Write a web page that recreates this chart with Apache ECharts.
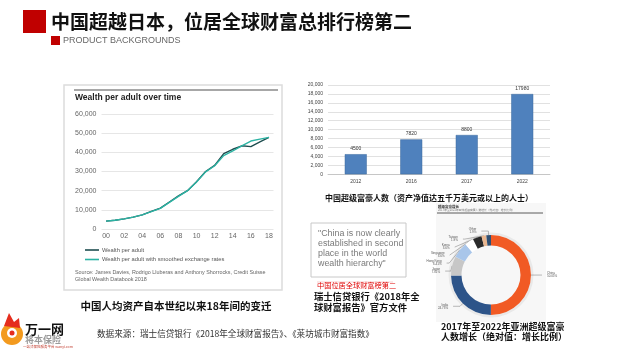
<!DOCTYPE html>
<html><head><meta charset="utf-8">
<script src="https://cdn.jsdelivr.net/npm/echarts@6/dist/echarts.min.js"></script>
<style>html,body{margin:0;padding:0;background:#fff}#c{width:624px;height:350px}</style>
</head><body><div id="c"></div>
<script>
// ---- data ----
const lineYears = ['00','01','02','03','04','05','06','07','08','09','10','11','12','13','14','15','16','17','18'];
const wealthPerAdult = [4100,4600,5300,6200,7400,9200,10900,14100,17300,20000,24700,30000,33200,39300,41600,43400,43000,45500,47800];
const wealthSmoothed = [4100,4600,5300,6200,7400,9100,10800,13900,17000,20000,24500,29800,33000,38300,40700,43400,45900,46900,47800];
const lineYTicks = [0,10000,20000,30000,40000,50000,60000];

const barYears = ['2012','2016','2017','2022'];
const barValues = [4500,7820,8800,17980];

const donutNames = ['China','India','Japan','Hong Kong','Singapore','Korea','Taiwan','Other'];
const donutValues = [50,24.7,7.8,6.4,3.6,3.6,1.9,1.9];
const donutColors = ['#f15a24','#2d5489','#c7c7c7','#a9c6ea','#ffffff','#2a2a2a','#e9b68f','#2f4f73'];

const CJK = '"Noto Sans CJK SC", "Noto Sans", sans-serif';
const LAT = '"Liberation Sans", Arial, sans-serif';

const chart = echarts.init(document.getElementById('c'), null, {renderer:'canvas'});

function txt(x,y,text,size,color,opts){
  opts = opts||{};
  return {type:'text', silent:true, z:10, style:{x:x,y:y,text:text,
    font:(opts.bold?'bold ':'')+size+'px '+(opts.fam||CJK), fill:color,
    align:opts.align||'left', verticalAlign:'middle', lineHeight:opts.lh}};
}

const graphics = [
  // header
  {type:'rect', shape:{x:23,y:10,width:23,height:23}, style:{fill:'#c00000'}},
  txt(51,21.5,'中国超越日本，位居全球财富总排行榜第二',19,'#111',{bold:true}),
  {type:'rect', shape:{x:51,y:36,width:9,height:9}, style:{fill:'#c00000'}},
  txt(63,40.8,'PRODUCT BACKGROUNDS',9,'#666',{fam:LAT}),
  // line chart panel
  {type:'rect', z:-1, shape:{x:64,y:85,width:218,height:205}, style:{fill:'#fff',stroke:'#dcdcdc',lineWidth:1.5}},
  {type:'line', shape:{x1:74,y1:90,x2:278,y2:90}, style:{stroke:'#8a8a8a',lineWidth:1.5}},
  txt(75,97.5,'Wealth per adult over time',8.5,'#222',{bold:true,fam:LAT}),
  txt(75,273,'Source: James Davies, Rodrigo Lluberas and Anthony Shorrocks, Credit Suisse',5.4,'#666',{fam:LAT}),
  txt(75,280,'Global Wealth Databook 2018',5.4,'#666',{fam:LAT}),
  txt(176,306,'中国人均资产自本世纪以来18年间的变迁',10.5,'#111',{bold:true,align:'center'}),
  // bar caption
  txt(325,198,'中国超级富豪人数（资产净值达五千万美元或以上的人士）',8,'#111',{bold:true}),
  // quote box
  {type:'rect', shape:{x:311,y:223,width:95,height:54}, style:{fill:'#fff',stroke:'#c8c8c8',lineWidth:1}},
  txt(318,234,'"China is now clearly',8.9,'#7a7a7a',{fam:LAT}),
  txt(318,244,'established in second',8.9,'#7a7a7a',{fam:LAT}),
  txt(318,254,'place in the world',8.9,'#7a7a7a',{fam:LAT}),
  txt(318,264,'wealth hierarchy"',8.9,'#7a7a7a',{fam:LAT}),
  txt(317,285,'中国位居全球财富榜第二',7.2,'#e00000',{}),
  {type:'line', shape:{x1:317,y1:282,x2:393,y2:282}, style:{stroke:'#f2b0b0',lineWidth:0.6}},
  txt(314,296,'瑞士信贷银行《2018年全',9.3,'#111',{bold:true}),
  txt(314,307,'球财富报告》官方文件',9.3,'#111',{bold:true}),
  // donut panel
  {type:'rect', z:-1, shape:{x:436,y:203,width:110,height:119}, style:{fill:'#f7f7f7'}},
  txt(438,206.5,'超级富豪增长',3.5,'#333',{bold:true}),
  txt(438,210,'2017年至2022年亚洲超级富豪人数增长（绝对值：增长比例）',2.8,'#777',{}),
  {type:'line', shape:{x1:437,y1:213,x2:543,y2:213}, style:{stroke:'#333',lineWidth:0.8}},
  txt(441,327,'2017年至2022年亚洲超级富豪',9,'#111',{bold:true}),
  txt(441,337,'人数增长（绝对值：增长比例）',9,'#111',{bold:true}),
  // footer source
  txt(97,334,'数据来源：瑞士信贷银行《2018年全球财富报告》、《莱坊城市财富指数》',8.6,'#333',{}),
  // logo
  {type:'circle', shape:{cx:12,cy:334,r:11}, style:{fill:'#f39a1e'}},
  {type:'polygon', shape:{points:[[4,326],[9,313],[14,322],[19,318],[20,328]]}, style:{fill:'#e52d1d'}},
  {type:'circle', shape:{cx:12,cy:333,r:5}, style:{fill:'#fff'}},
  {type:'circle', shape:{cx:12,cy:333,r:2.5}, style:{fill:'#e52d1d'}},
  txt(25,329,'万一网',13,'#111',{bold:true}),
  txt(25,340,'将本保险',9,'#9a9a9a',{bold:true}),
  txt(23,347,'一站式保险服务平台 wanyi.com',3.5,'#c0392b',{})
];

const option = {
  backgroundColor:'#fff',
  animation:false,
  legend:{
    data:['Wealth per adult','Wealth per adult with smoothed exchange rates'],
    orient:'vertical', left:85, top:247, padding:0, itemGap:3.5,
    itemWidth:14, itemHeight:1.6, icon:'rect',
    textStyle:{fontSize:5.8, color:'#555', fontFamily:LAT, padding:[0,0,0,-2]}
  },
  grid:[
    {left:101.5, top:114, width:172, height:115, containLabel:false},
    {left:328, top:85, width:222, height:89.3, containLabel:false}
  ],
  xAxis:[
    {gridIndex:0, type:'category', data:lineYears, boundaryGap:true,
     axisLine:{show:false}, axisTick:{show:false},
     axisLabel:{interval:1, fontSize:7, color:'#666', fontFamily:LAT, margin:4}},
    {gridIndex:1, type:'category', data:barYears,
     axisLine:{lineStyle:{color:'#bfbfbf',width:0.8}}, axisTick:{show:false},
     axisLabel:{fontSize:5, color:'#444', fontFamily:LAT, margin:5}}
  ],
  yAxis:[
    {gridIndex:0, type:'value', min:0, max:60000, interval:10000,
     axisLine:{show:false}, axisTick:{show:false},
     splitLine:{lineStyle:{color:'#e6e6e6',width:1}},
     axisLabel:{fontSize:7, color:'#666', fontFamily:LAT, margin:5,
       formatter:v=>v.toLocaleString('en-US')}},
    {gridIndex:1, type:'value', min:0, max:20000, interval:2000,
     axisLine:{show:false}, axisTick:{show:false},
     splitLine:{lineStyle:{color:'#d9d9d9',width:0.8}},
     axisLabel:{fontSize:5, color:'#444', fontFamily:LAT, margin:5}}
  ],
  series:[
    {name:'Wealth per adult', type:'line', xAxisIndex:0, yAxisIndex:0, data:wealthPerAdult,
     symbol:'none', lineStyle:{color:'#1f4e50', width:1.4}, itemStyle:{color:'#1f4e50'}, z:3},
    {name:'Wealth per adult with smoothed exchange rates', type:'line', xAxisIndex:0, yAxisIndex:0, data:wealthSmoothed,
     symbol:'none', lineStyle:{color:'#2bb3a3', width:1.4}, itemStyle:{color:'#2bb3a3'}, z:4},
    {type:'bar', xAxisIndex:1, yAxisIndex:1, data:barValues, barWidth:22,
     itemStyle:{color:'#4f81bd', borderColor:'#3d6b9f', borderWidth:0.5},
     label:{show:true, position:'top', distance:3, fontSize:5, color:'#333', fontFamily:LAT}},
    {type:'pie', center:[491,275], radius:[40,42.5], silent:true, label:{show:false}, labelLine:{show:false},
     data:[{value:1, itemStyle:{color:'#e9e9e9'}}], z:1},
    {type:'pie', center:[491,275], radius:[29.5,40], startAngle:90, clockwise:true, silent:true, z:2,
     data:donutNames.map((n,i)=>({name:n, value:donutValues[i], itemStyle:{color:donutColors[i]}})),
     label:{show:true, fontSize:3, color:'#555', fontFamily:LAT, formatter:'{b}\n{d}%'},
     labelLine:{show:true, length:4, length2:7, lineStyle:{color:'#777', width:0.5}}}
  ],
  graphic: graphics
};
chart.setOption(option);
</script></body></html>
